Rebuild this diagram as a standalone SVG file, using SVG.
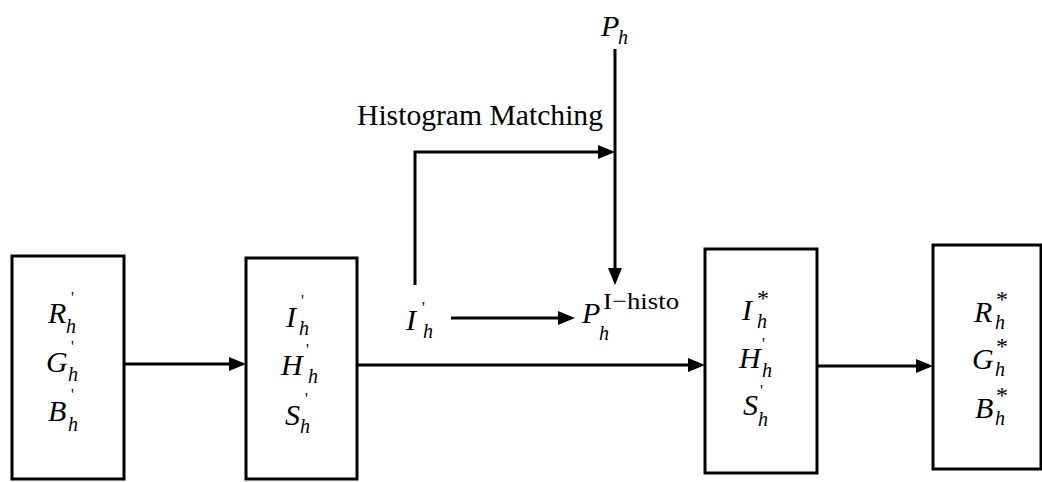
<svg xmlns="http://www.w3.org/2000/svg" width="1042" height="482" viewBox="0 0 1042 482">
<style>
.box{fill:#fff;stroke:#000;stroke-width:3}
.ln{fill:none;stroke:#000;stroke-width:3;marker-end:url(#ah)}
text{font-family:'Liberation Serif','DejaVu Serif',serif;fill:#000}
.m{font-style:italic;font-size:30px}
.s{font-style:italic;font-size:20px}
.p{font-size:16px}
.t{font-size:29px}
.sup{font-size:24px}
</style>
<defs>
<marker id="ah" markerUnits="userSpaceOnUse" markerWidth="18" markerHeight="14" refX="13" refY="7" orient="auto">
<path d="M0,0 L17,7 L0,14 z" fill="#000"/>
</marker>
</defs>
<g id="connectors">
<line class="ln" x1="124" y1="364" x2="242" y2="364"/>
<line class="ln" x1="357" y1="365" x2="701" y2="365"/>
<line class="ln" x1="817" y1="366" x2="929" y2="366"/>
<polyline class="ln" points="415,285 415,152 611,152"/>
<line class="ln" x1="615" y1="49" x2="615" y2="281"/>
<line class="ln" x1="451" y1="318" x2="571" y2="318"/>
</g>
<g id="rgb-in">
<rect class="box" x="12" y="256" width="112" height="223"/>
<text class="m" x="48" y="323">R</text><text class="p" x="71" y="303">'</text><text class="s" x="66" y="333">h</text>
<text class="m" x="46" y="372">G</text><text class="p" x="71" y="352">'</text><text class="s" x="68" y="381">h</text>
<text class="m" x="48" y="421">B</text><text class="p" x="71" y="400">'</text><text class="s" x="68" y="431">h</text>
</g>
<g id="ihs-in">
<rect class="box" x="246" y="258" width="111" height="221"/>
<text class="m" x="286" y="327">I</text><text class="p" x="301" y="306">'</text><text class="s" x="299" y="335">h</text>
<text class="m" x="281" y="375">H</text><text class="p" x="306" y="355">'</text><text class="s" x="308" y="383">h</text>
<text class="m" x="285" y="425">S</text><text class="p" x="305" y="404">'</text><text class="s" x="300" y="433">h</text>
</g>
<g id="ihs-out">
<rect class="box" x="705" y="249" width="112" height="224"/>
<text class="m" x="742" y="320">I</text><text class="sup" x="757" y="306">*</text><text class="s" x="757" y="328">h</text>
<text class="m" x="739" y="368">H</text><text class="p" x="762" y="349">'</text><text class="s" x="762" y="377">h</text>
<text class="m" x="743" y="415">S</text><text class="p" x="760" y="396">'</text><text class="s" x="758" y="426">h</text>
</g>
<g id="rgb-out">
<rect class="box" x="933" y="245" width="108" height="224"/>
<text class="m" x="974" y="322">R</text><text class="sup" x="996" y="307">*</text><text class="s" x="995" y="329">h</text>
<text class="m" x="972" y="369">G</text><text class="sup" x="996" y="354">*</text><text class="s" x="995" y="376">h</text>
<text class="m" x="975" y="418">B</text><text class="sup" x="996" y="403">*</text><text class="s" x="995" y="425">h</text>
</g>
<g id="ph">
<text class="m" x="601" y="36">P</text><text class="s" x="618" y="44">h</text>
</g>
<g id="label-histogram">
<text class="t" x="357" y="125" textLength="246" lengthAdjust="spacingAndGlyphs">Histogram Matching</text>
</g>
<g id="i-prime">
<text class="m" x="406" y="330">I</text><text class="p" x="422" y="313">'</text><text class="s" x="423" y="338">h</text>
</g>
<g id="p-histo">
<text class="m" x="582" y="323">P</text><text class="s" x="599" y="340">h</text>
<text class="sup" x="603" y="309" textLength="76" lengthAdjust="spacingAndGlyphs">I−histo</text>
</g>
</svg>
